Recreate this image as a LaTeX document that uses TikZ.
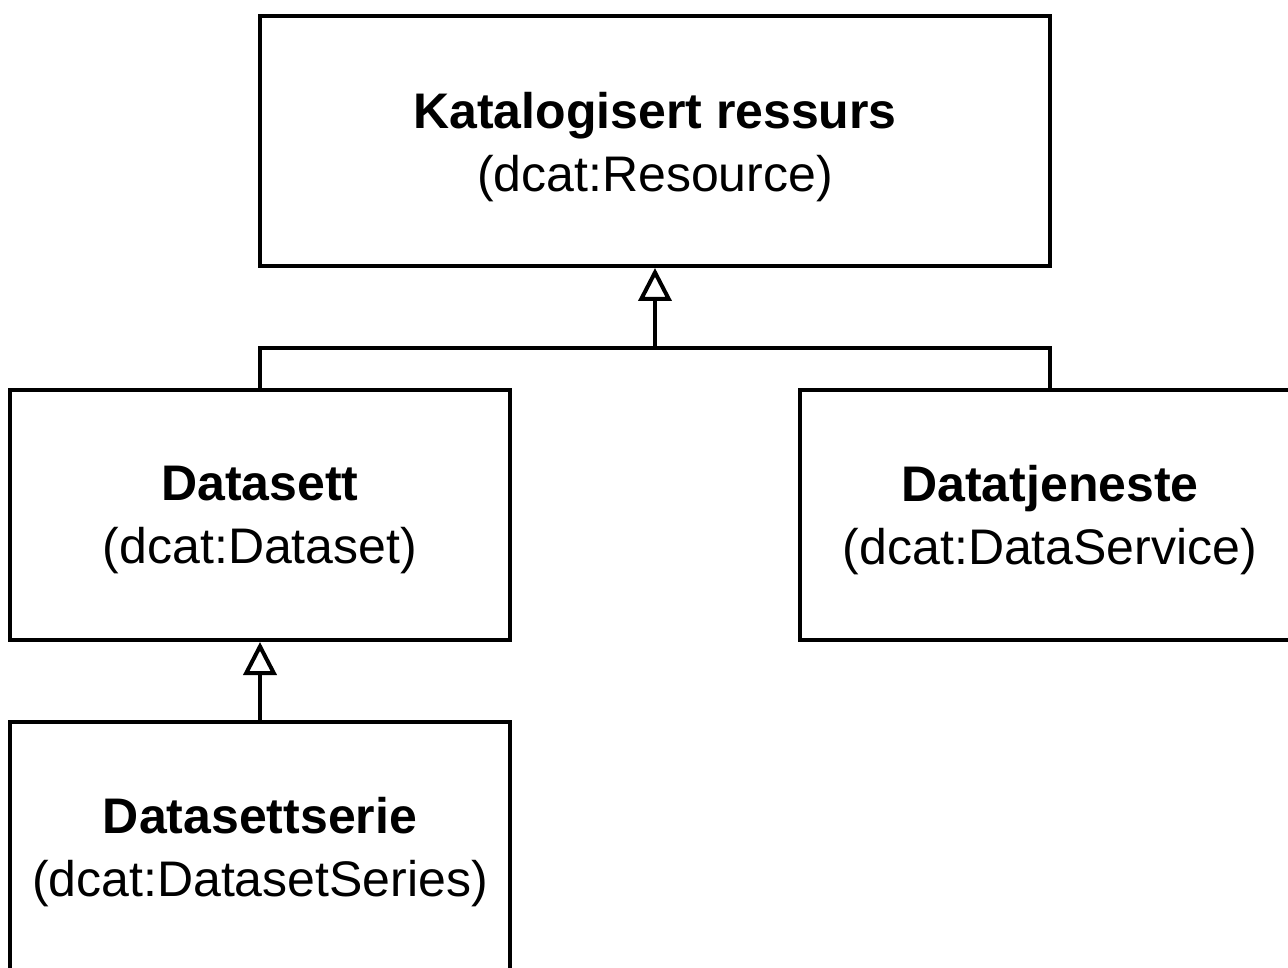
\documentclass[tikz,border=0pt]{standalone}
\usepackage{fontspec}
\setmainfont{Liberation Sans}
\usetikzlibrary{arrows.meta}
\begin{document}
\begin{tikzpicture}[x=1pt,y=-1pt,
  cls/.style={draw=black, line width=4pt, minimum width=500pt, minimum height=250pt, inner sep=0pt},
  txt/.style={align=center, inner sep=0pt, font=\fontsize{50}{63}\selectfont},
  gen/.style={draw=black, line width=4pt, -{Triangle[open, length=33pt, width=33pt, line width=4pt]}},
  link/.style={draw=black, line width=4pt}]
\useasboundingbox (0,0) rectangle (1288,968);
\clip (0,0) rectangle (1288,968);
\node[cls, minimum width=790pt] (res) at (655,141) {};
\node[cls] (ds) at (260,515) {};
\node[cls] (dsv) at (1050,515) {};
\node[cls] (ser) at (260,847) {};
\node[txt] (rest) at ([yshift=-6pt]res.center) {\textbf{Katalogisert ressurs}\\(dcat:Resource)};
\node[txt] (dst) at ([yshift=-5pt]ds.center) {\textbf{Datasett}\\(dcat:Dataset)};
\node[txt] (dsvt) at ([yshift=-5pt]dsv.center) {\textbf{Datatjeneste}\\(dcat:DataService)};
\node[txt] (sert) at ([yshift=-5pt]ser.center) {\textbf{Datasettserie}\\(dcat:DatasetSeries)};
\coordinate (j) at (655,348);
\draw[link] (ds.north) |- (j);
\draw[link] (dsv.north) |- (j);
\draw[gen] (j) -- (res.south);
\draw[gen] (ser.north) -- (ds.south);
\end{tikzpicture}
\end{document}
